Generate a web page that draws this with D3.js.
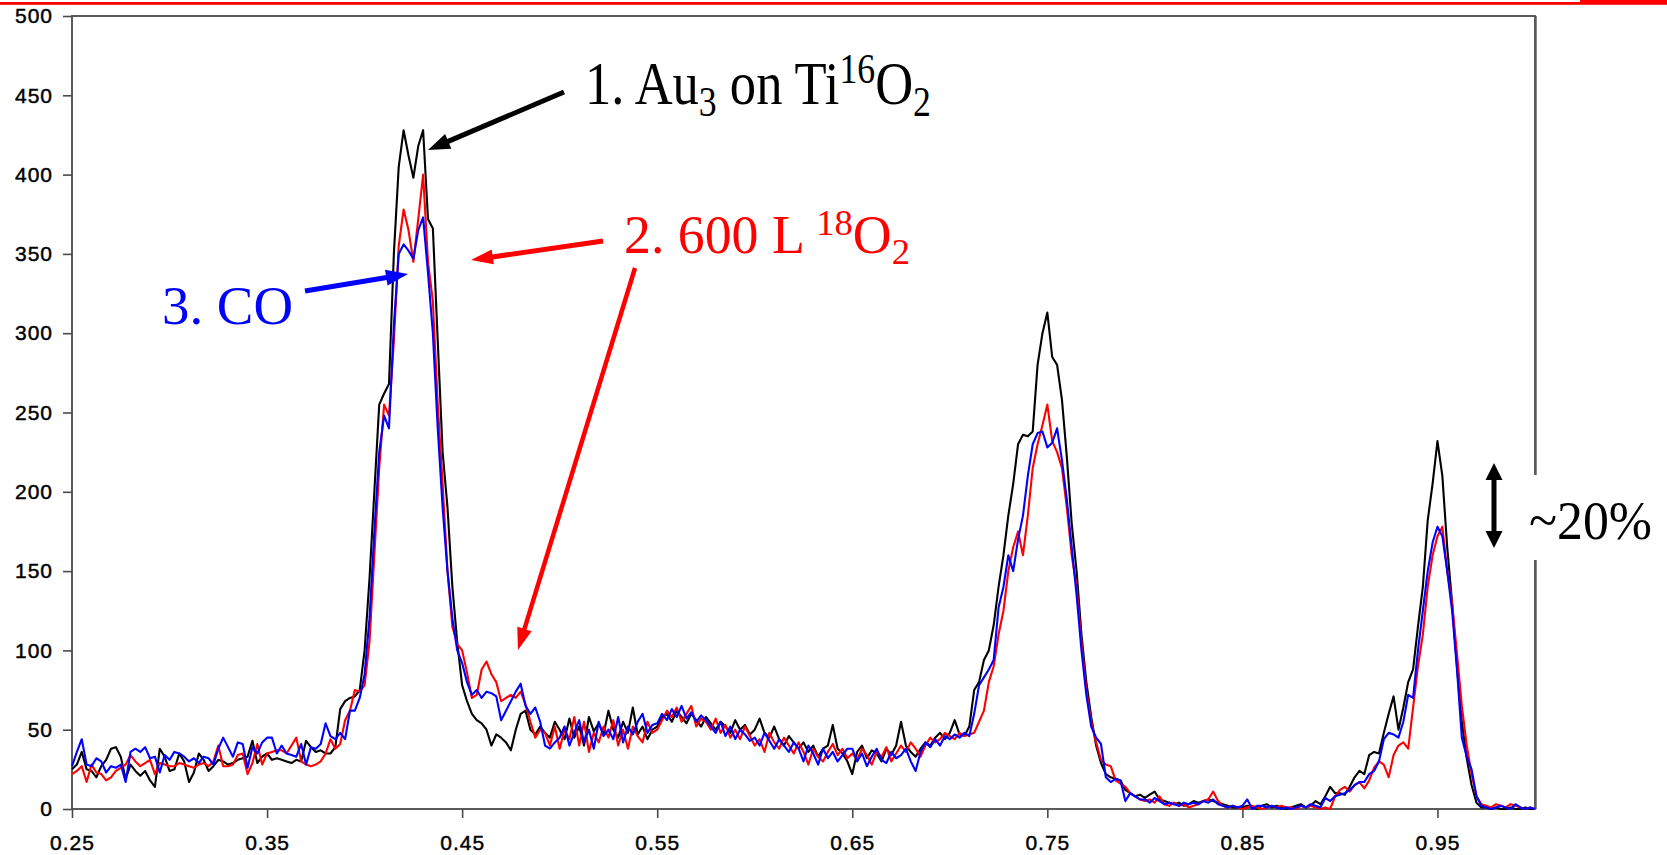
<!DOCTYPE html>
<html><head><meta charset="utf-8">
<script src="https://cdn.jsdelivr.net/npm/d3@7"></script>
<style>body{margin:0;background:#fff} svg{display:block}</style>
</head><body>
<svg id="chart" width="1667" height="855"></svg>
<script>
// ---- data ----
const xStart = 0.25, xStep = 0.0025;           // sampling of the spectra
const xTicks = [0.25, 0.35, 0.45, 0.55, 0.65, 0.75, 0.85, 0.95];
const yTicks = [0, 50, 100, 150, 200, 250, 300, 350, 400, 450, 500];
const seriesNames = ["1. Au3 on Ti16O2", "2. 600 L 18O2", "3. CO"];
const seriesColors = ["#000000", "#ff0000", "#0000ff"];

const au3Ti16O2 = [
 25,28,36,25,24,20,27,31,38,39, 33,19,28,24,21,24,18,14,38,33, 24,25,35,30,17,23,35,31,24,27,
 31,30,28,29,31,32,33,43,29,33, 35,31,32,31,30,29,31,30,43,39, 36,37,35,35,39,63,68,70,71,75,
 100,145,200,255,262,268,350,405,428,412, 398,418,428,372,366,295,225,190,140,105,
 78,68,60,56,54,50,40,47,45,42, 37,50,60,62,50,47,52,48,45,55, 50,44,57,45,52,40,58,49,54,47,
 62,50,45,55,48,64,47,52,44,50, 52,58,60,55,62,58,54,60,56,52, 58,54,50,55,52,48,56,50,53,47,
 50,57,48,45,52,44,40,46,42,38, 42,36,40,33,38,40,53,38,35,30, 22,36,40,32,37,35,30,38,34,40,
 55,40,36,33,38,42,40,45,48,44, 48,56,47,46,52,75,80,94,100,116, 140,160,185,205,230,236,235,238,280,300,
 313,285,280,258,222,180,150,110,80,58, 40,29,22,20,19,18,12,10,8,9, 7,9,11,6,5,4,3,4,2,3,
 5,4,5,6,5,4,3,2,1,1, 1,2,1,0,2,3,1,2,1,0, 1,2,3,1,2,5,3,8,14,10,
 10,9,14,20,24,22,34,36,35,48, 60,71,50,64,80,88,115,140,182,205, 232,210,165,130,90,55,32,15,4,1,
 1,0,1,0,0,1,0,0,1,0, 0
];
const o18Exposure = [
 22,24,27,17,28,23,22,18,20,24, 26,28,34,30,27,29,31,22,29,28, 27,27,29,28,27,26,28,29,27,30,
 40,27,27,28,34,35,22,29,41,28, 35,36,37,37,35,40,45,30,28,27, 28,30,35,44,38,41,56,62,75,74,
 78,105,160,215,255,248,295,355,378,365, 345,372,400,345,320,255,205,150,115,104,
 100,86,70,72,88,93,85,80,68,70, 72,70,74,66,55,45,50,48,40,52, 38,50,44,58,40,55,36,48,42,52,
 45,56,40,50,38,52,46,42,55,48, 50,56,62,58,64,55,60,65,52,57, 55,50,57,48,53,45,50,44,52,46,
 40,44,36,48,42,38,45,40,35,42, 36,28,38,33,30,36,41,34,38,32, 35,31,38,34,28,36,33,39,30,35,
 40,36,42,38,33,40,45,42,44,48, 46,44,48,46,47,48,55,62,80,90, 110,125,150,165,175,160,185,215,230,242,
 255,232,225,215,190,160,140,105,75,55, 42,31,28,27,18,16,14,10,8,6, 5,6,4,8,3,2,4,2,3,1,
 2,3,5,6,11,5,2,1,2,1, 0,1,2,1,0,1,2,1,2,1, 1,0,2,1,2,1,0,1,0,8,
 12,14,11,15,17,13,18,26,30,28, 20,34,40,42,38,64,90,110,140,160, 172,178,150,130,98,65,40,22,8,3,
 2,1,3,2,1,3,2,1,0,1, 0
];
const coExposure = [
 27,36,44,28,27,32,30,23,27,26, 28,17,36,38,36,39,32,33,23,34, 31,36,35,33,30,32,29,33,32,28,
 38,45,39,33,42,41,26,39,35,42, 45,45,35,40,35,34,33,41,28,39, 38,41,54,46,44,48,44,62,62,70,
 85,120,175,225,248,240,305,350,356,352, 347,365,373,338,300,240,190,150,120,100,
 92,80,72,75,70,74,73,71,56,62, 68,74,79,65,60,64,55,40,38,42, 45,52,40,48,56,42,50,38,55,46,
 50,44,58,42,52,47,55,60,48,53, 54,60,56,63,58,65,57,61,55,59, 56,52,48,55,46,52,44,50,47,43,
 45,40,48,43,38,44,40,36,42,38, 30,40,35,28,38,32,36,30,34,38, 38,30,35,27,33,38,31,29,36,32,
 34,38,30,24,36,42,39,44,40,46, 44,47,45,48,46,60,78,83,88,94, 127,140,160,150,170,185,210,230,237,238,
 228,231,240,220,195,165,135,100,72,52, 45,41,20,17,19,18,5,10,8,6, 6,4,7,5,3,4,3,2,4,3,
 4,3,5,4,6,3,2,1,2,1, 2,6,0,2,2,1,2,1,0,1, 0,1,2,1,3,2,1,7,5,8,
 9,10,12,15,17,17,22,24,30,44, 48,47,45,55,72,70,100,125,150,168, 178,172,150,125,88,45,33,25,8,2,
 1,0,1,2,1,0,3,1,0,1, 0
];
const allSeries = [au3Ti16O2, o18Exposure, coExposure];

// ---- chart ----
const svg = d3.select("#chart");
svg.append("rect").attr("width", 1667).attr("height", 855).attr("fill", "#fff");

// red header rule
svg.append("rect").attr("x", 0).attr("y", 2).attr("width", 1580).attr("height", 2.8).attr("fill", "#ff0000");
svg.append("rect").attr("x", 1580).attr("y", 0).attr("width", 87).attr("height", 4.8).attr("fill", "#ff0000");

const x = d3.scaleLinear().domain([0.25, 1.0]).range([72, 1535]);
const y = d3.scaleLinear().domain([0, 500]).range([809, 16]);

const axisFont = '"Liberation Sans", Arial, sans-serif';
const axColor = "#4a4a4a";

const gy = svg.append("g").attr("transform", "translate(72,0)")
  .call(d3.axisLeft(y).tickValues(yTicks).tickSize(9).tickPadding(10).tickSizeOuter(0).tickFormat(d3.format("d")));
const gx = svg.append("g").attr("transform", "translate(0,809)")
  .call(d3.axisBottom(x).tickValues(xTicks).tickSize(9).tickPadding(17).tickSizeOuter(0).tickFormat(d3.format(".2f")));
[gx, gy].forEach(g => {
  g.select(".domain").remove();
  g.selectAll(".tick line").attr("stroke", axColor).attr("stroke-width", 1.6);
  g.selectAll(".tick text").attr("fill", "#000").attr("font-family", axisFont)
    .attr("font-size", 21).style("letter-spacing", "1px")
    .attr("stroke", "#000").attr("stroke-width", 0.45);
});

// frame
svg.append("rect").attr("x", 72).attr("y", 16).attr("width", 1535 - 72).attr("height", 809 - 16)
  .attr("fill", "none").attr("stroke", axColor).attr("stroke-width", 1.8);
svg.append("line").attr("x1", 1536.5).attr("x2", 1536.5).attr("y1", 16).attr("y2", 809)
  .attr("stroke", "#888").attr("stroke-width", 1);

// series lines
const line = d3.line()
  .x((d, i) => x(xStart + i * xStep))
  .y(d => y(d));
allSeries.forEach((s, k) => {
  svg.append("path").datum(s).attr("d", line)
    .attr("fill", "none").attr("stroke", seriesColors[k]).attr("stroke-width", 2.1)
    .attr("stroke-linejoin", "round");
});

// white box behind "~20%"
svg.append("rect").attr("x", 1520).attr("y", 475).attr("width", 147).attr("height", 85).attr("fill", "#fff");

// ---- annotations ----
const serif = '"Liberation Serif", "Times New Roman", serif';
function richText(parts, o) {
  const t = svg.append("text").attr("x", o.x).attr("y", o.y)
    .attr("font-family", serif).attr("font-size", o.size).attr("fill", o.color);
  let shift = 0;
  parts.forEach(p => {
    const target = p.sub ? o.size * 0.2 : p.sup ? -o.size * 0.34 : 0;
    const ts = t.append("tspan").text(p.t).attr("dy", target - shift);
    shift = target;
    if (p.sub || p.sup) ts.attr("font-size", o.size * 0.68);
  });
  const bb = t.node().getBBox();
  const sx = o.width / bb.width;
  t.attr("transform", `translate(${o.x},0) scale(${sx},1) translate(${-o.x},0)`);
}
richText([{t:"1. Au"},{t:"3",sub:1},{t:" on Ti"},{t:"16",sup:1},{t:"O"},{t:"2",sub:1}],
  {x:585, y:104, size:61, color:"#000", width:346});
richText([{t:"2. 600 L "},{t:"18",sup:1},{t:"O"},{t:"2",sub:1}],
  {x:624, y:253, size:54, color:"#ff0000", width:286});
richText([{t:"3. CO"}], {x:162, y:324, size:54, color:"#0000ff", width:131});
richText([{t:"~20%"}], {x:1529, y:539, size:54, color:"#000", width:123});

function arrow(x1, y1, x2, y2, color, w, hl, hw, both) {
  const dx = x2 - x1, dy = y2 - y1, L = Math.hypot(dx, dy);
  const ux = dx / L, uy = dy / L, px = -uy, py = ux;
  const head = (tx, ty, sx, sy) => {
    const bx = tx - sx * hl, by = ty - sy * hl;
    return `${tx},${ty} ${bx + px * hw / 2},${by + py * hw / 2} ${bx - px * hw / 2},${by - py * hw / 2}`;
  };
  const sx1 = both ? x1 + ux * (hl - 2) : x1, sy1 = both ? y1 + uy * (hl - 2) : y1;
  svg.append("line").attr("x1", sx1).attr("y1", sy1)
    .attr("x2", x2 - ux * (hl - 2)).attr("y2", y2 - uy * (hl - 2))
    .attr("stroke", color).attr("stroke-width", w);
  svg.append("polygon").attr("points", head(x2, y2, ux, uy)).attr("fill", color);
  if (both) svg.append("polygon").attr("points", head(x1, y1, -ux, -uy)).attr("fill", color);
}
arrow(564, 92, 428, 150, "#000", 5, 22, 16);
arrow(603, 241, 471, 260, "#ff0000", 5, 22, 15);
arrow(635, 268, 518, 650, "#ff0000", 4.5, 22, 15);
arrow(305, 291, 408, 274, "#0000ff", 5, 22, 16);
arrow(1494, 463, 1494, 548, "#000", 5, 17, 17, true);
</script>
</body></html>
